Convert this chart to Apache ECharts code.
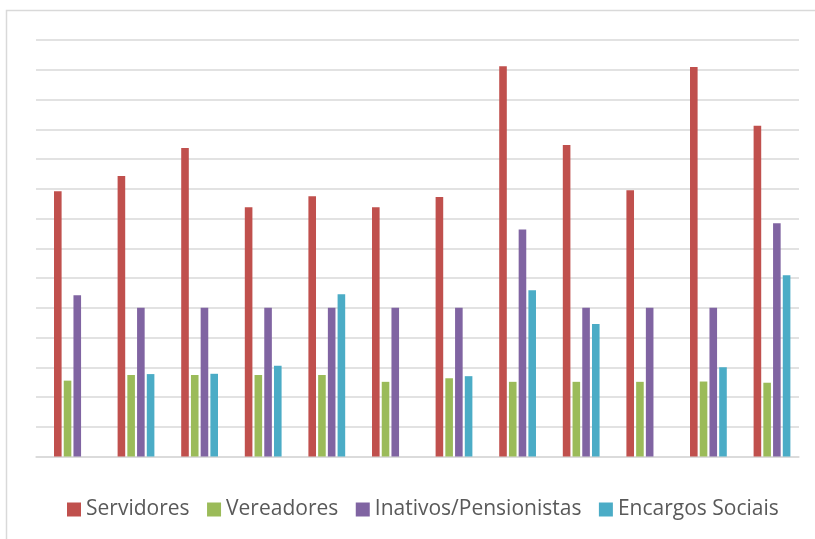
<!DOCTYPE html>
<html>
<head>
<meta charset="utf-8">
<script src="https://cdn.jsdelivr.net/npm/echarts@6/dist/echarts.min.js"></script>
<style>html,body{margin:0;padding:0;background:#fff;}#c{width:815px;height:539px;}</style>
</head>
<body>
<div id="c"></div>
<script>
const categories = ['1','2','3','4','5','6','7','8','9','10','11','12'];
const servidores = [8.92, 9.43, 10.37, 8.38, 8.75, 8.38, 8.72, 13.12, 10.47, 8.95, 13.09, 11.12];
const vereadores = [2.55, 2.74, 2.74, 2.74, 2.74, 2.51, 2.63, 2.51, 2.51, 2.51, 2.52, 2.48];
const inativos = [5.42, 5.0, 5.0, 5.0, 5.0, 5.0, 5.0, 7.63, 5.0, 5.0, 5.0, 7.84];
const encargos = [null, 2.77, 2.78, 3.05, 5.45, null, 2.70, 5.59, 4.45, null, 3.0, 6.09];
const seriesNames = ['Servidores', 'Vereadores', 'Inativos/Pensionistas', 'Encargos Sociais'];
const colors = ['#c0504d', '#9bbb59', '#8064a2', '#4bacc6'];

const chart = echarts.init(document.getElementById('c'), null, {renderer: 'canvas'});
const dataSets = [servidores, vereadores, inativos, encargos];
const gridTop = 40, gridBottom = 82.5;
chart.setOption({
  animation: false,
  color: colors,
  graphic: [{
    type: 'rect', silent: true, z: -10,
    shape: {x: 6.5, y: 10.5, width: 900, height: 600},
    style: {fill: 'none', stroke: '#d9d9d9', lineWidth: 1.5}
  }],
  grid: [
    {left: 36, right: 16, top: gridTop, bottom: gridBottom},
    {left: 40.6, right: 11.2, top: gridTop, bottom: gridBottom}
  ],
  legend: {
    data: seriesNames,
    left: 62, top: 494,
    itemWidth: 14, itemHeight: 14, itemGap: 17.5,
    icon: 'rect',
    textStyle: {fontFamily: 'Open Sans', fontSize: 21, color: '#595959'}
  },
  xAxis: [
    {gridIndex: 0, type: 'category', data: categories, show: true,
     axisLine: {show: true, lineStyle: {color: '#d9d9d9', width: 1.5}},
     axisTick: {show: false}, axisLabel: {show: false}, splitLine: {show: false}},
    {gridIndex: 1, type: 'category', data: categories,
     axisLine: {show: false}, axisTick: {show: false}, axisLabel: {show: false}, splitLine: {show: false}}
  ],
  yAxis: [
    {gridIndex: 0, type: 'value', min: 0, max: 14, interval: 1,
     axisLine: {show: false}, axisTick: {show: false}, axisLabel: {show: false},
     splitLine: {show: true, lineStyle: {color: '#d9d9d9', width: 1.5}}},
    {gridIndex: 1, type: 'value', min: 0, max: 14, interval: 1,
     axisLine: {show: false}, axisTick: {show: false}, axisLabel: {show: false},
     splitLine: {show: false}}
  ],
  series: dataSets.map((d, i) => ({
    name: seriesNames[i],
    type: 'bar',
    xAxisIndex: 1, yAxisIndex: 1,
    data: d,
    barWidth: 7.6,
    barGap: '28%',
    itemStyle: {color: colors[i]}
  }))
});
</script>
</body>
</html>
